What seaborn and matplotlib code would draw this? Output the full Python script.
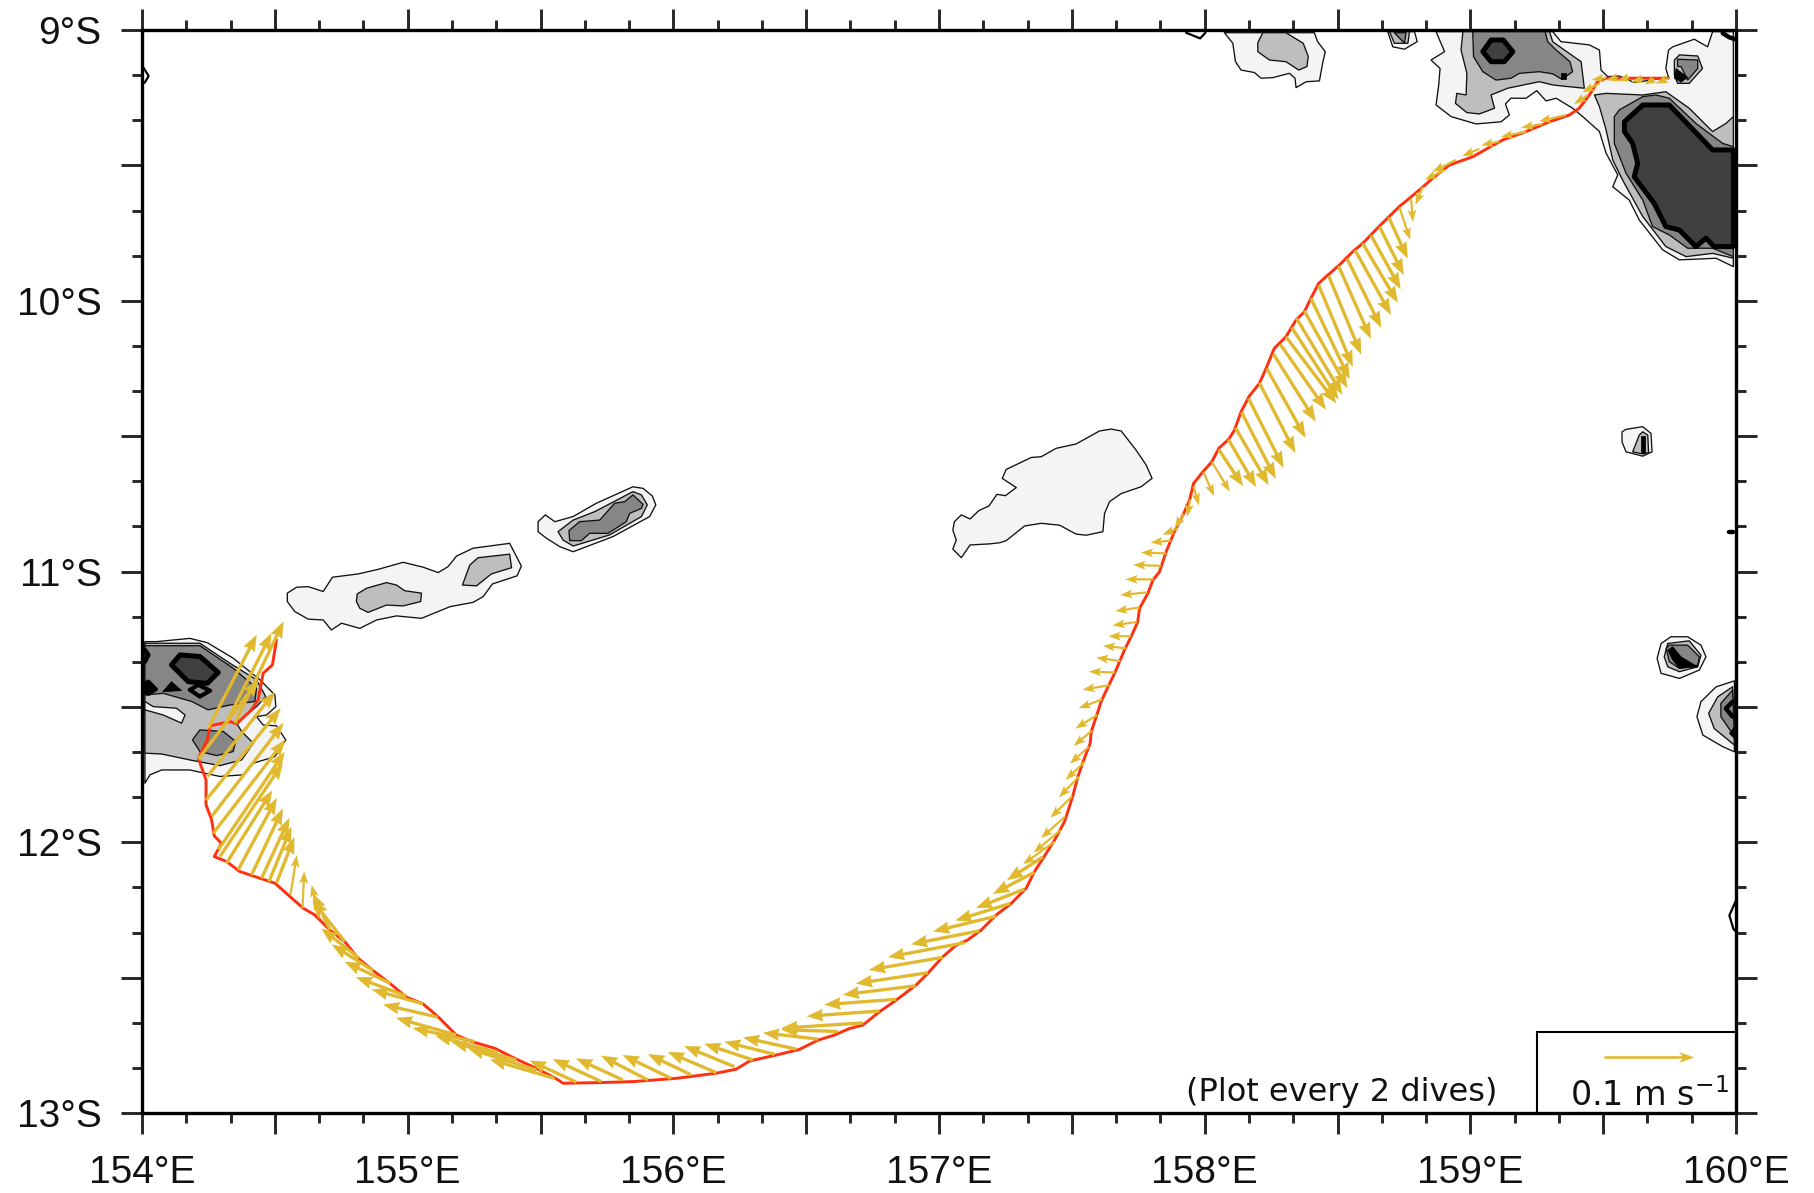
#!/usr/bin/env python3
import numpy as np
import matplotlib
matplotlib.use("Agg")
import matplotlib.pyplot as plt
from matplotlib.ticker import MultipleLocator, FuncFormatter
import seaborn as sns

# -------------------------
# Glider track: longitude (E), latitude (degrees south)
# -------------------------
track_lon = [154.506, 154.491, 154.456, 154.437, 154.412, 154.356, 154.331, 154.256, 154.246, 154.212,
             154.241, 154.241, 154.262, 154.272, 154.299, 154.272, 154.318, 154.368, 154.444, 154.500,
             154.607, 154.650, 154.707, 154.763, 154.813, 154.870, 154.933, 154.995, 155.058, 155.114,
             155.183, 155.240, 155.328, 155.409, 155.484, 155.557, 155.585, 155.710, 155.848, 156.011,
             156.162, 156.237, 156.287, 156.400, 156.475, 156.544, 156.607, 156.663, 156.714, 156.776,
             156.839, 156.914, 156.958, 157.014, 157.065, 157.108, 157.159, 157.215, 157.272, 157.328,
             157.359, 157.391, 157.435, 157.472, 157.501, 157.523, 157.542, 157.569, 157.573, 157.592,
             157.610, 157.636, 157.661, 157.698, 157.723, 157.748, 157.755, 157.786, 157.805, 157.830,
             157.855, 157.886, 157.921, 157.943, 157.958, 157.993, 158.027, 158.053, 158.091, 158.112,
             158.137, 158.168, 158.206, 158.231, 158.262, 158.306, 158.344, 158.375, 158.400, 158.429,
             158.457, 158.507, 158.557, 158.595, 158.658, 158.733, 158.808, 158.865, 158.921, 159.009,
             159.122, 159.210, 159.298, 159.373, 159.410, 159.448, 159.479, 159.511, 159.746]
track_s = [11.253, 11.345, 11.376, 11.474, 11.511, 11.563, 11.554, 11.570, 11.622, 11.690,
           11.770, 11.862, 11.917, 11.977, 12.004, 12.053, 12.071, 12.108, 12.133, 12.151,
           12.244, 12.268, 12.324, 12.367, 12.428, 12.474, 12.521, 12.572, 12.597, 12.644,
           12.712, 12.736, 12.761, 12.801, 12.835, 12.872, 12.890, 12.888, 12.884, 12.872,
           12.853, 12.838, 12.808, 12.783, 12.765, 12.731, 12.712, 12.688, 12.675, 12.626,
           12.583, 12.527, 12.484, 12.423, 12.380, 12.361, 12.324, 12.269, 12.226, 12.170,
           12.109, 12.060, 11.992, 11.925, 11.838, 11.758, 11.703, 11.635, 11.592, 11.536,
           11.481, 11.426, 11.376, 11.290, 11.241, 11.186, 11.136, 11.081, 11.032, 11.001,
           10.927, 10.853, 10.786, 10.736, 10.675, 10.632, 10.595, 10.545, 10.511, 10.478,
           10.410, 10.352, 10.305, 10.250, 10.176, 10.133, 10.071, 10.041, 9.991, 9.936,
           9.911, 9.868, 9.819, 9.788, 9.724, 9.652, 9.591, 9.542, 9.499, 9.468,
           9.406, 9.375, 9.339, 9.314, 9.289, 9.240, 9.191, 9.178, 9.178]

# -------------------------
# Currents (m/s) at every second dive
# -------------------------
vec_lon = [159.746, 159.693, 159.649, 159.598, 159.555, 159.511, 159.486, 159.442, 159.360, 159.272,
           159.210, 159.109, 159.034, 158.946, 158.903, 158.821, 158.777, 158.733, 158.693, 158.658,
           158.626, 158.595, 158.566, 158.536, 158.504, 158.467, 158.429, 158.400, 158.375, 158.346,
           158.328, 158.306, 158.284, 158.259, 158.234, 158.206, 158.165, 158.139, 158.116, 158.089,
           158.053, 158.027, 157.995, 157.958, 157.945, 157.921, 157.899, 157.874, 157.855, 157.836,
           157.807, 157.784, 157.755, 157.745, 157.723, 157.705, 157.683, 157.663, 157.642, 157.614,
           157.595, 157.575, 157.564, 157.548, 157.526, 157.501, 157.475, 157.458, 157.435, 157.391,
           157.359, 157.322, 157.268, 157.215, 157.152, 157.096, 157.014, 156.958, 156.912, 156.839,
           156.776, 156.714, 156.619, 156.544, 156.462, 156.381, 156.299, 156.230, 156.162, 156.067,
           155.992, 155.904, 155.810, 155.729, 155.635, 155.553, 155.484, 155.409, 155.340, 155.252,
           155.183, 155.114, 155.058, 154.995, 154.935, 154.870, 154.817, 154.763, 154.707, 154.669,
           154.604, 154.559, 154.506, 154.478, 154.450, 154.412, 154.362, 154.318, 154.293, 154.287,
           154.268, 154.262, 154.241, 154.246, 154.212, 154.249, 154.318, 154.350]
vec_s = [9.178, 9.181, 9.180, 9.175, 9.175, 9.177, 9.197, 9.240, 9.314, 9.347,
         9.375, 9.412, 9.439, 9.480, 9.517, 9.579, 9.622, 9.655, 9.692, 9.726,
         9.758, 9.788, 9.813, 9.844, 9.872, 9.909, 9.942, 9.991, 10.037, 10.065,
         10.099, 10.133, 10.160, 10.197, 10.250, 10.303, 10.361, 10.412, 10.469, 10.512,
         10.549, 10.595, 10.632, 10.685, 10.734, 10.788, 10.841, 10.886, 10.933, 10.979,
         11.029, 11.077, 11.133, 11.186, 11.239, 11.284, 11.331, 11.373, 11.420, 11.472,
         11.530, 11.588, 11.647, 11.703, 11.758, 11.830, 11.905, 11.955, 11.998, 12.054,
         12.111, 12.173, 12.226, 12.273, 12.327, 12.371, 12.425, 12.482, 12.530, 12.580,
         12.623, 12.667, 12.699, 12.727, 12.764, 12.783, 12.804, 12.829, 12.851, 12.859,
         12.872, 12.878, 12.878, 12.884, 12.886, 12.872, 12.841, 12.804, 12.777, 12.736,
         12.712, 12.646, 12.597, 12.568, 12.521, 12.474, 12.428, 12.367, 12.324, 12.281,
         12.244, 12.194, 12.151, 12.145, 12.133, 12.121, 12.102, 12.077, 12.053, 12.028,
         11.967, 11.905, 11.844, 11.757, 11.693, 11.579, 11.557, 11.560]
vec_u = [-.014, -.011, -.013, -.013, -.013, -.016, -.019, -.015, -.030, -.024,
         -.028, -.020, -.019, -.026, -.022, -.008, .002, .012, .021, .027,
         .033, .039, .040, .038, .036, .036, .038, .043, .048, .051,
         .052, .056, .051, .047, .043, .040, .039, .038, .037, .031,
         .027, .020, .012, .006, -.003, -.010, -.017, -.023, -.028, -.031,
         -.031, -.030, -.027, -.027, -.025, -.026, -.027, -.029, -.030, -.026,
         -.024, -.020, -.021, -.021, -.022, -.024, -.027, -.030, -.035, -.040,
         -.046, -.054, -.061, -.070, -.076, -.085, -.082, -.080, -.081, -.080,
         -.081, -.091, -.063, -.061, -.059, -.056, -.054, -.056, -.054, -.048,
         -.054, -.052, -.052, -.054, -.052, -.072, -.076, -.072, -.070, -.069,
         -.067, -.061, -.057, -.056, -.051, -.046, -.042, -.036, -.019, -.009,
         .002, .007, .020, .025, .031, .035, .043, .051, .070, .074,
         .080, .080, .083, .075, .067, .054, .050, .054]
vec_v = [-.006, -.006, -.004, -.004, -.003, -.002, -.010, -.010, -.007, -.004,
         -.006, -.004, -.008, -.013, -.011, -.020, -.026, -.036, -.046, -.054,
         -.060, -.066, -.072, -.077, -.081, -.087, -.091, -.090, -.086, -.085,
         -.080, -.074, -.073, -.075, -.077, -.078, -.077, -.074, -.064, -.053,
         -.041, -.033, -.027, -.021, -.019, -.016, -.007, -.002, .001, .001,
         0.0, -.003, -.004, -.004, 0.0, .003, .004, .001, -.005, -.010,
         -.015, -.017, -.019, -.020, -.023, -.024, -.024, -.025, -.025, -.026,
         -.024, -.021, -.019, -.017, -.015, -.016, -.014, -.012, -.010, -.006,
         -.006, -.006, .002, .007, .013, .014, .018, .023, .023, .023,
         .026, .027, .024, .025, .024, .021, .024, .020, .019, .015,
         .019, .014, .016, .021, .024, .029, .033, .046, .041, .037,
         .041, .044, .051, .061, .067, .074, .080, .081, .104, .109,
         .104, .104, .102, .094, .088, .104, .099, .113]
key_lon = [159.505]
key_s = [12.793]
key_u = [0.1]
key_v = [0.0]

# -------------------------
# Bathymetry shapes (lon, degrees south)
# -------------------------
ne_shallow = [(158.871, 9.006), (158.903, 9.080), (158.852, 9.111), (158.886, 9.142), (158.881, 9.203),
              (158.871, 9.277), (158.928, 9.320), (159.022, 9.347), (159.116, 9.339), (159.147, 9.314),
              (159.132, 9.273), (159.153, 9.252), (159.210, 9.252), (159.250, 9.224), (159.285, 9.262),
              (159.323, 9.252), (159.385, 9.289), (159.423, 9.320), (159.486, 9.375), (159.511, 9.455),
              (159.555, 9.535), (159.536, 9.579), (159.598, 9.628), (159.636, 9.702), (159.724, 9.812),
              (159.787, 9.849), (159.925, 9.843), (159.990, 9.874), (159.990, 9.006), (159.912, 9.006),
              (159.893, 9.062), (159.843, 9.034), (159.762, 9.062), (159.746, 9.074), (159.736, 9.142),
              (159.746, 9.175), (159.617, 9.194), (159.561, 9.170), (159.517, 9.172), (159.492, 9.148),
              (159.486, 9.074), (159.448, 9.055), (159.341, 9.043), (159.310, 9.006)]
n_mid = [(158.972, 9.006), (158.965, 9.074), (158.987, 9.160), (158.984, 9.240), (158.949, 9.234),
         (158.944, 9.271), (158.987, 9.305), (159.034, 9.310), (159.091, 9.289), (159.078, 9.240),
         (159.141, 9.215), (159.210, 9.201), (159.260, 9.191), (159.310, 9.203), (159.366, 9.209),
         (159.429, 9.215), (159.417, 9.117), (159.354, 9.074), (159.310, 9.043), (159.298, 9.006)]
n_deep = [(159.009, 9.006), (159.012, 9.098), (159.047, 9.154), (159.097, 9.185), (159.153, 9.178),
          (159.185, 9.160), (159.260, 9.154), (159.310, 9.162), (159.345, 9.182), (159.385, 9.154),
          (159.375, 9.117), (159.323, 9.074), (159.291, 9.043), (159.282, 9.006)]
n_core = [(159.047, 9.080), (159.078, 9.037), (159.124, 9.037), (159.160, 9.080), (159.128, 9.117),
          (159.078, 9.117)]
n_spot = [(159.340, 9.158), (159.360, 9.158), (159.360, 9.182), (159.340, 9.182)]
e_mid = [(159.467, 9.240), (159.511, 9.234), (159.649, 9.240), (159.736, 9.228), (159.824, 9.289),
         (159.912, 9.375), (159.962, 9.345), (159.990, 9.320), (159.990, 9.843), (159.912, 9.825),
         (159.812, 9.837), (159.736, 9.800), (159.649, 9.689), (159.573, 9.554), (159.536, 9.480),
         (159.511, 9.369), (159.486, 9.283)]
e_deep = [(159.542, 9.320), (159.561, 9.295), (159.649, 9.246), (159.699, 9.240), (159.749, 9.252),
          (159.849, 9.345), (159.950, 9.419), (159.990, 9.431), (159.990, 9.837), (159.912, 9.806),
          (159.818, 9.806), (159.749, 9.757), (159.686, 9.726), (159.649, 9.628), (159.586, 9.529),
          (159.542, 9.419)]
e_core = [(159.580, 9.339), (159.649, 9.277), (159.749, 9.277), (159.912, 9.443), (159.990, 9.443),
          (159.990, 9.800), (159.918, 9.800), (159.887, 9.769), (159.849, 9.800), (159.787, 9.739),
          (159.736, 9.726), (159.692, 9.640), (159.617, 9.542), (159.630, 9.492), (159.611, 9.419),
          (159.580, 9.375)]
topa_shallow = [(158.689, 9.006), (158.708, 9.062), (158.752, 9.071), (158.800, 9.043), (158.790, 9.006)]
topa_mid = [(158.696, 9.006), (158.714, 9.049), (158.765, 9.049), (158.771, 9.006)]
topa_deep = [(158.714, 9.010), (158.752, 9.049), (158.758, 9.010)]
topb_mid = [(159.768, 9.111), (159.787, 9.092), (159.856, 9.096), (159.874, 9.142), (159.824, 9.197),
            (159.780, 9.197), (159.768, 9.166)]
topb_deep = [(159.780, 9.108), (159.856, 9.111), (159.856, 9.142), (159.818, 9.185), (159.793, 9.135),
             (159.780, 9.135)]
topb_core = [(159.774, 9.142), (159.818, 9.175), (159.793, 9.193), (159.768, 9.178)]
topc_shallow = [(158.074, 9.010), (158.106, 9.049), (158.116, 9.117), (158.137, 9.148), (158.187, 9.157),
                (158.212, 9.178), (158.256, 9.176), (158.319, 9.160), (158.340, 9.178), (158.344, 9.213),
                (158.382, 9.191), (158.432, 9.188), (158.444, 9.123), (158.454, 9.080), (158.425, 9.043),
                (158.413, 9.010)]
topc_mid = [(158.219, 9.010), (158.200, 9.047), (158.200, 9.080), (158.244, 9.111), (158.306, 9.117),
            (158.354, 9.148), (158.385, 9.135), (158.390, 9.098), (158.371, 9.049), (158.306, 9.010)]

w_shallow = [(154.011, 11.259), (154.055, 11.259), (154.180, 11.247), (154.246, 11.263), (154.343, 11.320),
             (154.444, 11.400), (154.500, 11.456), (154.504, 11.499), (154.469, 11.530), (154.431, 11.536),
             (154.456, 11.567), (154.506, 11.570), (154.541, 11.622), (154.500, 11.684), (154.419, 11.708),
             (154.381, 11.751), (154.293, 11.757), (154.180, 11.733), (154.074, 11.733), (154.030, 11.751),
             (154.011, 11.782)]
w_mid = [(154.011, 11.265), (154.218, 11.265), (154.331, 11.339), (154.431, 11.400), (154.466, 11.462),
         (154.431, 11.499), (154.356, 11.560), (154.375, 11.591), (154.419, 11.634), (154.375, 11.696),
         (154.293, 11.717), (154.180, 11.696), (154.074, 11.674), (154.011, 11.671)]
w_hole = [(154.011, 11.480), (154.042, 11.499), (154.130, 11.505), (154.162, 11.530), (154.149, 11.560),
          (154.080, 11.530), (154.011, 11.511)]
w_deep = [(154.011, 11.274), (154.218, 11.274), (154.343, 11.357), (154.431, 11.431), (154.425, 11.480),
          (154.331, 11.493), (154.249, 11.511), (154.187, 11.480), (154.080, 11.450), (154.011, 11.456)]
w_deep2 = [(154.190, 11.622), (154.218, 11.585), (154.306, 11.591), (154.353, 11.628), (154.343, 11.665),
           (154.281, 11.680), (154.218, 11.665)]
w_core = [(154.111, 11.345), (154.143, 11.308), (154.218, 11.314), (154.287, 11.373), (154.246, 11.413),
          (154.174, 11.407)]
w_spot1 = [(154.180, 11.437), (154.212, 11.419), (154.256, 11.440), (154.218, 11.462)]
w_spot2 = [(154.078, 11.444), (154.111, 11.407), (154.149, 11.440)]
w_spot3 = [(154.011, 11.413), (154.024, 11.407), (154.052, 11.435), (154.024, 11.452), (154.011, 11.444)]

ridge_a = [(154.547, 11.080), (154.582, 11.058), (154.626, 11.056), (154.682, 11.074), (154.717, 11.021),
           (154.814, 11.009), (154.889, 10.992), (154.983, 10.966), (155.058, 10.984), (155.115, 11.004),
           (155.152, 10.982), (155.184, 10.943), (155.246, 10.914), (155.384, 10.896), (155.428, 10.980),
           (155.412, 11.016), (155.319, 11.046), (155.284, 11.093), (155.246, 11.114), (155.159, 11.130),
           (155.052, 11.173), (154.958, 11.164), (154.883, 11.179), (154.820, 11.210), (154.751, 11.191),
           (154.713, 11.216), (154.682, 11.179), (154.626, 11.176), (154.575, 11.148), (154.547, 11.111)]
ridge_a_mid1 = [(154.810, 11.083), (154.845, 11.062), (154.920, 11.041), (154.958, 11.050), (154.989, 11.071),
                (155.052, 11.080), (155.049, 11.111), (154.983, 11.127), (154.920, 11.124), (154.851, 11.151),
                (154.820, 11.136), (154.807, 11.111)]
ridge_a_mid2 = [(155.206, 11.050), (155.234, 10.976), (155.265, 10.949), (155.384, 10.936), (155.391, 10.986),
                (155.315, 11.009), (155.259, 11.053)]
ridge_b = [(155.491, 10.816), (155.518, 10.791), (155.554, 10.816), (155.623, 10.797), (155.710, 10.748),
           (155.848, 10.687), (155.886, 10.693), (155.921, 10.721), (155.934, 10.754), (155.911, 10.797),
           (155.773, 10.871), (155.623, 10.927), (155.572, 10.908), (155.522, 10.877), (155.491, 10.853)]
ridge_b_mid = [(155.566, 10.853), (155.623, 10.810), (155.704, 10.779), (155.848, 10.705), (155.880, 10.717),
               (155.902, 10.754), (155.880, 10.797), (155.760, 10.865), (155.623, 10.906), (155.585, 10.884)]
ridge_b_deep = [(155.607, 10.849), (155.647, 10.816), (155.723, 10.810), (155.779, 10.748), (155.817, 10.742),
                (155.848, 10.717), (155.886, 10.752), (155.880, 10.767), (155.836, 10.785), (155.823, 10.816),
                (155.754, 10.859), (155.685, 10.859), (155.654, 10.886), (155.610, 10.886)]
central = [(157.238, 10.656), (157.253, 10.623), (157.347, 10.579), (157.385, 10.576), (157.441, 10.545),
           (157.516, 10.529), (157.604, 10.481), (157.648, 10.474), (157.686, 10.481), (157.742, 10.552),
           (157.780, 10.607), (157.802, 10.656), (157.761, 10.687), (157.686, 10.712), (157.642, 10.742),
           (157.623, 10.786), (157.617, 10.853), (157.554, 10.866), (157.516, 10.862), (157.454, 10.829),
           (157.385, 10.822), (157.322, 10.832), (157.253, 10.886), (157.228, 10.894), (157.190, 10.898),
           (157.117, 10.902), (157.084, 10.949), (157.052, 10.917), (157.065, 10.884), (157.052, 10.847),
           (157.058, 10.816), (157.084, 10.791), (157.117, 10.806), (157.150, 10.775), (157.188, 10.758),
           (157.218, 10.715), (157.250, 10.720), (157.291, 10.690)]
islet_a = [(159.571, 10.484), (159.586, 10.475), (159.649, 10.465), (159.680, 10.490), (159.684, 10.558),
           (159.649, 10.574), (159.586, 10.558), (159.571, 10.521)]
islet_a_mid = [(159.611, 10.558), (159.636, 10.496), (159.649, 10.484), (159.668, 10.496), (159.671, 10.561),
               (159.649, 10.566)]
islet_a_core = [(159.643, 10.564), (159.643, 10.500), (159.659, 10.500), (159.659, 10.564)]
islet_b = [(159.703, 11.321), (159.718, 11.266), (159.755, 11.241), (159.818, 11.241), (159.868, 11.272),
           (159.887, 11.315), (159.862, 11.364), (159.787, 11.395), (159.718, 11.376)]
islet_b_mid = [(159.730, 11.315), (159.743, 11.266), (159.824, 11.256), (159.868, 11.309), (159.856, 11.352),
               (159.787, 11.370), (159.743, 11.352)]
islet_b_deep = [(159.737, 11.284), (159.749, 11.272), (159.818, 11.272), (159.862, 11.315), (159.856, 11.346),
                (159.787, 11.358), (159.749, 11.333)]
islet_b_core = [(159.743, 11.290), (159.762, 11.278), (159.793, 11.315), (159.856, 11.352), (159.787, 11.358),
                (159.762, 11.327)]
edge_shallow = [(159.994, 11.404), (159.925, 11.426), (159.868, 11.481), (159.853, 11.536), (159.875, 11.604),
                (159.950, 11.647), (159.994, 11.666)]
edge_mid = [(159.987, 11.426), (159.931, 11.463), (159.897, 11.524), (159.918, 11.580), (159.994, 11.641)]
edge_deep = [(159.987, 11.438), (159.943, 11.487), (159.943, 11.536), (159.994, 11.610)]
edge_spot = [(159.975, 11.598), (159.994, 11.574), (159.994, 11.617)]

# thick open bits of the deepest contour
open_thick = [
    [(159.950, 9.012), (159.975, 9.027), (159.997, 9.034)],
    [(154.011, 11.290), (154.024, 11.308), (154.011, 11.333)],
    [(159.987, 11.481), (159.962, 11.506), (159.987, 11.536)],
    [(159.975, 10.853), (159.988, 10.853)],
]
# thin open contours at the frame
open_thin = [
    [(154.000, 9.130), (154.025, 9.170), (154.010, 9.195)],
    [(157.930, 9.010), (157.983, 9.031), (158.003, 9.010)],
    [(160.000, 12.215), (159.975, 12.270), (159.990, 12.320), (160.000, 12.330)],
]

key_box_lon = [159.25, 159.25, 160.0]
key_box_s = [13.0, 12.70, 12.70]

# -------------------------
# Plot
# -------------------------
sns.set_theme(style="ticks", rc={"font.family": ["Liberation Sans", "DejaVu Sans"],
                                 "axes.linewidth": 2.4, "axes.edgecolor": "black"})

G1, G2, G3, G4 = "#f4f4f4", "#bebebe", "#868686", "#404040"
GOLD = "#e1b92f"
RED = "#ff3010"

fig = plt.figure(figsize=(18.15, 11.93), dpi=100)
ax = fig.add_axes([142 / 1815, 80 / 1193, 1594 / 1815, 1083 / 1193])


def shape(pts, color, lw=0.95, edge="#111111", z=2):
    xs, ys = zip(*pts)
    ax.fill(xs, ys, facecolor=color, edgecolor=edge, lw=lw, joinstyle="round", zorder=z)


for pts in [ne_shallow, topa_shallow, topc_shallow, w_shallow, ridge_a, ridge_b, central, islet_a, islet_b,
            edge_shallow]:
    shape(pts, G1)
for pts in [n_mid, e_mid, topa_mid, topb_mid, topc_mid, w_mid, ridge_a_mid1, ridge_a_mid2, ridge_b_mid,
            islet_a_mid, islet_b_mid, edge_mid]:
    shape(pts, G2)
shape(w_hole, G1)
for pts in [n_deep, e_deep, topa_deep, topb_deep, w_deep, w_deep2, ridge_b_deep, islet_b_deep, edge_deep]:
    shape(pts, G3)
for pts in [n_core, e_core, w_core]:
    shape(pts, G4, lw=3.6, edge="black")
for pts in [n_spot, topb_core, w_spot2, islet_a_core, islet_b_core, edge_spot]:
    shape(pts, "black", lw=0.5, edge="black")
shape(w_spot1, G3, lw=3.0, edge="black")
shape(w_spot3, "black", lw=3.0, edge="black")

for pts in open_thick:
    xs, ys = zip(*pts)
    ax.plot(xs, ys, color="black", lw=3.2, zorder=3)
for pts in open_thin:
    xs, ys = zip(*pts)
    ax.plot(xs, ys, color="black", lw=1.6, zorder=3)

sns.lineplot(x=track_lon, y=track_s, sort=False, estimator=None, color=RED, lw=2.1, ax=ax, zorder=4)

# vectors: length scale 0.1 m/s = 90 px, short ones drawn thinner
vec_lon_a = np.array(vec_lon)
vec_s_a = np.array(vec_s)
vec_u_a = np.array(vec_u)
vec_v_a = np.array(vec_v)
speed = np.hypot(vec_u_a, vec_v_a)
qopts = dict(angles="uv", scale_units="inches", scale=0.1 / 0.9, units="inches", pivot="tail",
             color=GOLD, headaxislength=4.6, zorder=5)
long_v = speed >= 0.045
ax.quiver(vec_lon_a[long_v], vec_s_a[long_v], vec_u_a[long_v], vec_v_a[long_v],
          width=0.033, headwidth=3.8, headlength=5.0, **qopts)
ax.quiver(vec_lon_a[~long_v], vec_s_a[~long_v], vec_u_a[~long_v], vec_v_a[~long_v],
          width=0.022, headwidth=4.0, headlength=5.5, **qopts)
ax.quiver(key_lon, key_s, key_u, key_v, width=0.026, headwidth=4.2, headlength=6.0, **qopts)

ax.plot(key_box_lon, key_box_s, color="black", lw=1.5, zorder=6, solid_joinstyle="miter")

ax.text(158.517, 12.925, "(Plot every 2 dives)", ha="center", va="center", fontsize=23,
        family="DejaVu Sans", color="#111111")
ax.text(159.675, 12.975, r"0.1 m s$^{-1}$", ha="center", va="baseline", fontsize=24,
        family="DejaVu Sans", color="#111111")

ax.set_xlim(154, 160)
ax.set_ylim(13, 9)
ax.set_xlabel("")
ax.set_ylabel("")
ax.xaxis.set_major_locator(MultipleLocator(0.5))
ax.yaxis.set_major_locator(MultipleLocator(0.5))
ax.xaxis.set_minor_locator(MultipleLocator(1 / 6))
ax.yaxis.set_minor_locator(MultipleLocator(1 / 6))
ax.xaxis.set_major_formatter(FuncFormatter(lambda v, p: f"{v:.0f}°E" if abs(v - round(v)) < 1e-6 else ""))
ax.yaxis.set_major_formatter(FuncFormatter(lambda v, p: f"{v:.0f}°S" if abs(v - round(v)) < 1e-6 else ""))
ax.tick_params(which="major", direction="out", length=15, width=2.1, top=True, right=True, bottom=True, left=True,
               labelsize=28, labelcolor="#111111")
ax.tick_params(which="minor", direction="out", length=7.5, width=2.1, top=True, right=True, bottom=True, left=True)
ax.tick_params(axis="x", which="major", pad=15)
ax.tick_params(axis="y", which="major", pad=14)

fig.savefig("out.png", dpi=100)
plt.close(fig)
